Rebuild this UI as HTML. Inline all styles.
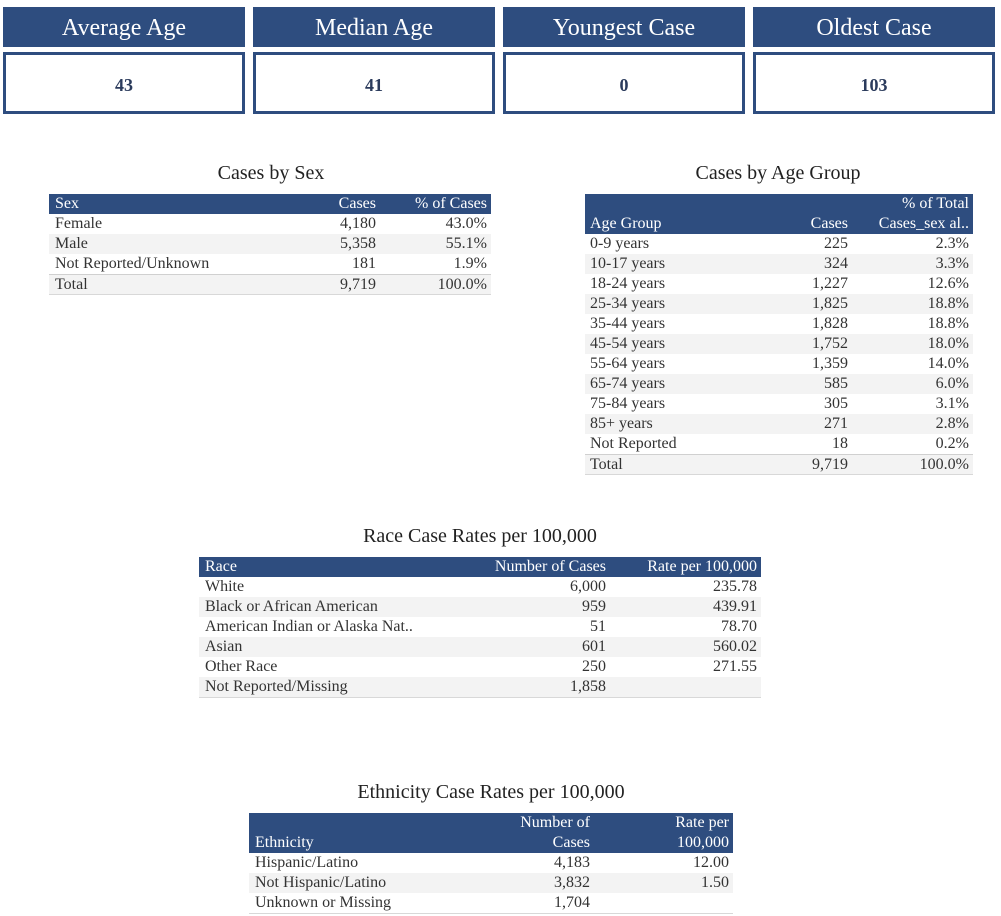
<!DOCTYPE html>
<html><head><meta charset="utf-8"><style>
body{margin:0;width:1001px;height:916px;background:#fff;position:relative;font-family:"Liberation Serif",serif;color:#333;overflow:hidden}
.hd{position:absolute;height:40px;width:242px;background:#2e4d7f;color:#fff;font-size:24px;line-height:43px;text-align:center;top:7px}
.val{position:absolute;height:56px;width:236px;border:3px solid #2e4d7f;top:52px;font-weight:bold;font-size:18px;line-height:60px;text-align:center;color:#2b3b5c}
.ttl{position:absolute;font-size:20px;color:#222;text-align:center;width:400px}
.tb{position:absolute;border-bottom:1px solid #d8d8d8}
.row{position:relative;height:20px;font-size:16px;line-height:20px}
.row.g{background:#f3f3f3}
.row.h{background:#2e4d7f;color:#fff}
.row.tot{border-top:1px solid #d0d0d0;height:19px}
.row span{position:absolute;white-space:nowrap}
.h2{height:40px}
.h2 span{line-height:20px;bottom:0}
</style></head><body>
<div class="hd" style="left:3px">Average Age</div>
<div class="hd" style="left:253px">Median Age</div>
<div class="hd" style="left:503px">Youngest Case</div>
<div class="hd" style="left:753px">Oldest Case</div>
<div class="val" style="left:3px">43</div>
<div class="val" style="left:253px">41</div>
<div class="val" style="left:503px">0</div>
<div class="val" style="left:753px">103</div>

<div class="ttl" style="left:71px;top:162px">Cases by Sex</div>
<div class="tb" style="left:49px;top:194px;width:442px">
<div class="row h"><span style="left:6px">Sex</span><span style="right:115px">Cases</span><span style="right:4px">% of Cases</span></div>
<div class="row"><span style="left:6px">Female</span><span style="right:115px">4,180</span><span style="right:4px">43.0%</span></div>
<div class="row g"><span style="left:6px">Male</span><span style="right:115px">5,358</span><span style="right:4px">55.1%</span></div>
<div class="row"><span style="left:6px">Not Reported/Unknown</span><span style="right:115px">181</span><span style="right:4px">1.9%</span></div>
<div class="row g tot"><span style="left:6px">Total</span><span style="right:115px">9,719</span><span style="right:4px">100.0%</span></div>
</div>

<div class="ttl" style="left:578px;top:162px">Cases by Age Group</div>
<div class="tb" style="left:585px;top:194px;width:388px">
<div class="row h h2"><span style="left:5px">Age Group</span><span style="right:125px">Cases</span><span style="right:4px;text-align:right">% of Total<br>Cases_sex al..</span></div>
<div class="row"><span style="left:5px">0-9 years</span><span style="right:125px">225</span><span style="right:4px">2.3%</span></div>
<div class="row g"><span style="left:5px">10-17 years</span><span style="right:125px">324</span><span style="right:4px">3.3%</span></div>
<div class="row"><span style="left:5px">18-24 years</span><span style="right:125px">1,227</span><span style="right:4px">12.6%</span></div>
<div class="row g"><span style="left:5px">25-34 years</span><span style="right:125px">1,825</span><span style="right:4px">18.8%</span></div>
<div class="row"><span style="left:5px">35-44 years</span><span style="right:125px">1,828</span><span style="right:4px">18.8%</span></div>
<div class="row g"><span style="left:5px">45-54 years</span><span style="right:125px">1,752</span><span style="right:4px">18.0%</span></div>
<div class="row"><span style="left:5px">55-64 years</span><span style="right:125px">1,359</span><span style="right:4px">14.0%</span></div>
<div class="row g"><span style="left:5px">65-74 years</span><span style="right:125px">585</span><span style="right:4px">6.0%</span></div>
<div class="row"><span style="left:5px">75-84 years</span><span style="right:125px">305</span><span style="right:4px">3.1%</span></div>
<div class="row g"><span style="left:5px">85+ years</span><span style="right:125px">271</span><span style="right:4px">2.8%</span></div>
<div class="row"><span style="left:5px">Not Reported</span><span style="right:125px">18</span><span style="right:4px">0.2%</span></div>
<div class="row g tot"><span style="left:5px">Total</span><span style="right:125px">9,719</span><span style="right:4px">100.0%</span></div>
</div>

<div class="ttl" style="left:280px;top:525px">Race Case Rates per 100,000</div>
<div class="tb" style="left:199px;top:557px;width:562px">
<div class="row h"><span style="left:6px">Race</span><span style="right:155px">Number of Cases</span><span style="right:4px">Rate per 100,000</span></div>
<div class="row"><span style="left:6px">White</span><span style="right:155px">6,000</span><span style="right:4px">235.78</span></div>
<div class="row g"><span style="left:6px">Black or African American</span><span style="right:155px">959</span><span style="right:4px">439.91</span></div>
<div class="row"><span style="left:6px">American Indian or Alaska Nat..</span><span style="right:155px">51</span><span style="right:4px">78.70</span></div>
<div class="row g"><span style="left:6px">Asian</span><span style="right:155px">601</span><span style="right:4px">560.02</span></div>
<div class="row"><span style="left:6px">Other Race</span><span style="right:155px">250</span><span style="right:4px">271.55</span></div>
<div class="row g"><span style="left:6px">Not Reported/Missing</span><span style="right:155px">1,858</span><span style="right:4px"></span></div>
</div>

<div class="ttl" style="left:291px;top:781px">Ethnicity Case Rates per 100,000</div>
<div class="tb" style="left:249px;top:813px;width:484px">
<div class="row h h2"><span style="left:6px">Ethnicity</span><span style="right:143px;text-align:right">Number of<br>Cases</span><span style="right:4px;text-align:right">Rate per<br>100,000</span></div>
<div class="row"><span style="left:6px">Hispanic/Latino</span><span style="right:143px">4,183</span><span style="right:4px">12.00</span></div>
<div class="row g"><span style="left:6px">Not Hispanic/Latino</span><span style="right:143px">3,832</span><span style="right:4px">1.50</span></div>
<div class="row"><span style="left:6px">Unknown or Missing</span><span style="right:143px">1,704</span><span style="right:4px"></span></div>
</div>
</body></html>
